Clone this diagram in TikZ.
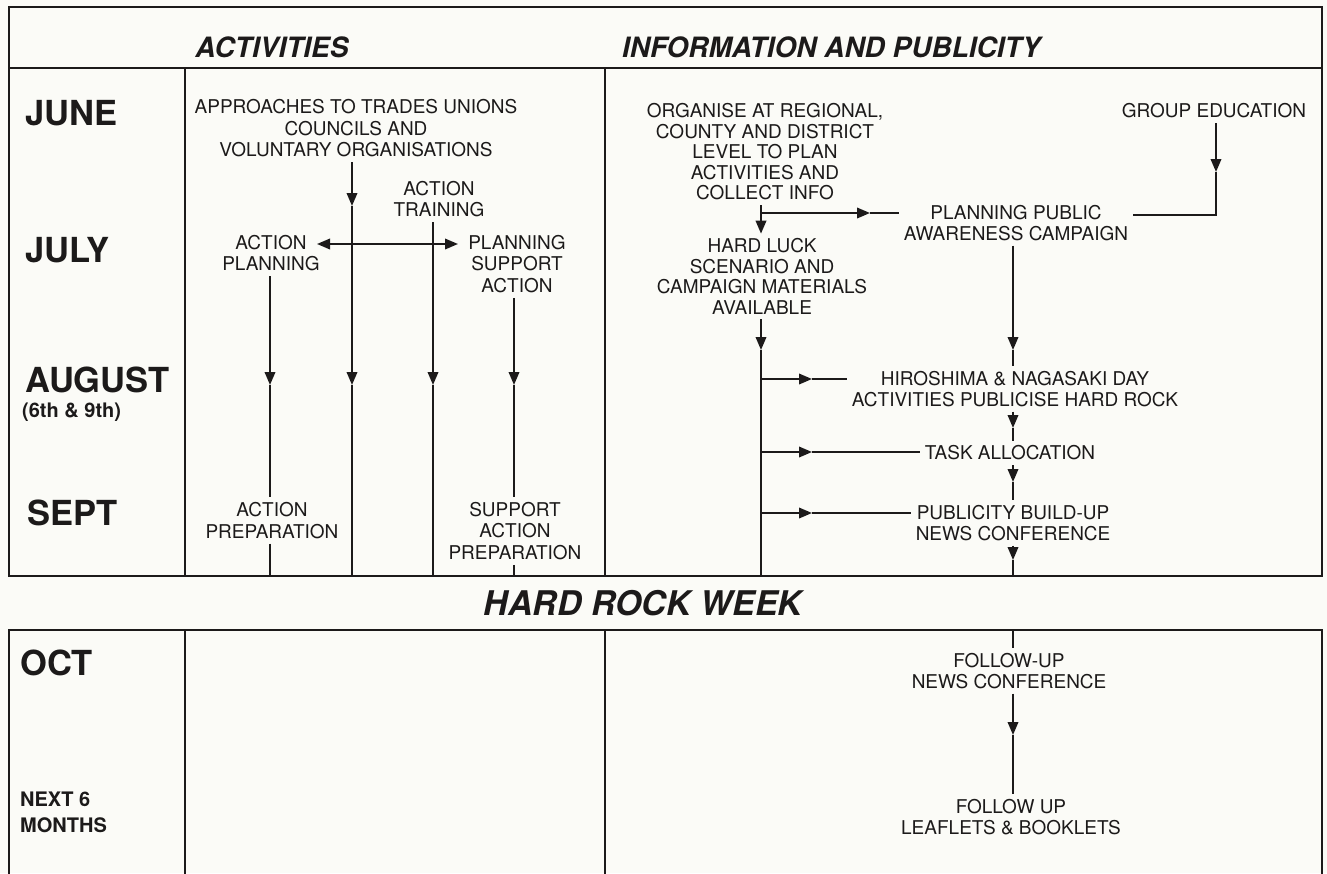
\documentclass[tikz,border=0pt]{standalone}
\usepackage{fontspec}
\setmainfont{TeX Gyre Heros}
\usetikzlibrary{arrows.meta}
\definecolor{paper}{RGB}{251,251,247}
\definecolor{ink}{RGB}{28,26,26}
\begin{document}
\begin{tikzpicture}[x=1pt,y=-1pt,color=ink,
  txt/.style={align=center,inner sep=0pt,outer sep=5pt,font=\fontsize{19}{21.5}\selectfont},
  rtxt/.style={align=center,inner sep=0pt,outer sep=5pt,font=\fontsize{19}{20.5}\selectfont},
  month/.style={anchor=west,inner sep=0pt,font=\fontsize{34.5}{40}\selectfont\bfseries},
  smallmonth/.style={anchor=west,inner sep=0pt,align=left,font=\fontsize{20}{26}\selectfont\bfseries},
  head/.style={inner sep=0pt,font=\fontsize{28}{32}\selectfont\bfseries\itshape},
  frame/.style={line width=2.3pt},
  div/.style={line width=1.7pt},
  flow/.style={line width=2pt},
  tip/.style={flow,-{Triangle[length=13pt,width=10.5pt]}},
  dtip/.style={flow,{Triangle[length=13pt,width=10.5pt]}-{Triangle[length=13pt,width=10.5pt]}},
]
\useasboundingbox (0,0) rectangle (1327,873);
\fill[paper] (0,0) rectangle (1327,873);

% ---------- frames ----------
\draw[frame] (9,7) rectangle (1322,576);
\draw[div] (9,68) -- (1322,68);
\draw[div] (185,68) -- (185,576);
\draw[div] (605,68) -- (605,576);
\draw[frame] (9,874) -- (9,630) -- (1322,630) -- (1322,874);
\draw[div] (185,630) -- (185,874);
\draw[div] (605,630) -- (605,874);

% ---------- headings ----------
\node[head] (hact) at (272,47) {ACTIVITIES};
\node[head,anchor=west] (hinfo) at (622,47) {INFORMATION AND PUBLICITY};
\node[head,font=\fontsize{34}{38}\selectfont\bfseries\itshape] (hrw) at (643,603) {HARD ROCK WEEK};

% ---------- months ----------
\node[month] (jun) at (25,113) {JUNE};
\node[month] (jul) at (25,250) {JULY};
\node[month] (aug) at (25,380) {AUGUST};
\node[smallmonth] (augd) at (22,412) {(6th \& 9th)};
\node[month] (sep) at (27,513) {SEPT};
\node[month] (oct) at (20,663) {OCT};
\node[smallmonth] (next) at (20,812) {NEXT 6\\MONTHS};

% ---------- activities ----------
\node[txt] (approach) at (356,128.5) {APPROACHES TO TRADES UNIONS\\COUNCILS AND\\VOLUNTARY ORGANISATIONS};
\node[txt] (training) at (439,199) {ACTION\\TRAINING};
\node[txt] (aplan) at (271,253) {ACTION\\PLANNING};
\node[txt] (psupp) at (517,264) {PLANNING\\SUPPORT\\ACTION};
\node[txt] (aprep) at (272,520.5) {ACTION\\PREPARATION};
\node[txt] (sprep) at (515,531) {SUPPORT\\ACTION\\PREPARATION};

\coordinate (a1) at (352,206);
\coordinate (a2) at (352,385);
\coordinate (a3) at (352,576);
\draw[tip] (approach.south -| a1) -- (a1);
\draw[tip] (a1) -- (a2);
\draw[flow] (a2) -- (a3);

\coordinate (b1) at (433,385);
\coordinate (b2) at (433,576);
\draw[tip] (training.south -| b1) -- (b1);
\draw[flow] (b1) -- (b2);

\coordinate (c1) at (270,385);
\coordinate (c2) at (270,576);
\draw[tip] (aplan.south -| c1) -- (c1);
\draw[flow] (c1) -- (aprep.north -| c1);
\draw[flow] (aprep.south -| c1) -- (c2);

\coordinate (d1) at (514,385);
\coordinate (d2) at (514,576);
\draw[tip] (psupp.south -| d1) -- (d1);
\draw[flow] (d1) -- (sprep.north -| d1);
\draw[flow] (sprep.south -| d1) -- (d2);

\coordinate (dl) at (317,244);
\coordinate (dr) at (458,244);
\draw[dtip] (dl) -- (dr);

% ---------- information and publicity ----------
\node[rtxt] (organise) at (765,152) {ORGANISE AT REGIONAL,\\COUNTY AND DISTRICT\\LEVEL TO PLAN\\ACTIVITIES AND\\COLLECT INFO};
\node[rtxt] (hardluck) at (762,276.5) {HARD LUCK\\SCENARIO AND\\CAMPAIGN MATERIALS\\AVAILABLE};
\node[rtxt] (ppac) at (1016,223) {PLANNING PUBLIC\\AWARENESS CAMPAIGN};
\node[rtxt] (group) at (1214,111) {GROUP EDUCATION};
\node[rtxt] (hiro) at (1015,389) {HIROSHIMA \& NAGASAKI DAY\\ACTIVITIES PUBLICISE HARD ROCK};
\node[rtxt] (task) at (1010,453) {TASK ALLOCATION};
\node[rtxt] (pub) at (1013,523) {PUBLICITY BUILD-UP\\NEWS CONFERENCE};
\node[rtxt] (fu1) at (1009,671) {FOLLOW-UP\\NEWS CONFERENCE};
\node[rtxt] (fu2) at (1011,817) {FOLLOW UP\\LEAFLETS \& BOOKLETS};

% organise -> hard luck, and -> planning public awareness
\coordinate (h0) at (761,213);
\coordinate (h1) at (870,213);
\draw[tip] (organise.south -| h0) -- (hardluck.north -| h0);
\draw[tip] (h0) -- (h1);
\draw[flow] (h1) -- (ppac.west |- h1);

% hard luck trunk with branches
\coordinate (k1) at (761,350);
\coordinate (k2) at (761,576);
\draw[tip] (hardluck.south -| k1) -- (k1);
\draw[flow] (k1) -- (k2);
\coordinate (e1) at (812,379);
\coordinate (e2) at (812,452);
\coordinate (e3) at (812,513);
\draw[tip] (k1 |- e1) -- (e1);
\draw[flow] (e1) -- (hiro.west |- e1);
\draw[tip] (k1 |- e2) -- (e2);
\draw[flow] (e2) -- (task.west |- e2);
\draw[tip] (k1 |- e3) -- (e3);
\draw[flow] (e3) -- (pub.west |- e3);

% group education -> planning public awareness
\coordinate (g1) at (1216,172);
\coordinate (g2) at (1216,215);
\draw[tip] (group.south -| g1) -- (g1);
\draw[flow] (g1) -- (g2) -- (ppac.east |- g2);

% main right column
\coordinate (m1) at (1013,350);
\coordinate (m2) at (1013,428);
\coordinate (m3) at (1013,482);
\coordinate (m4) at (1013,560);
\coordinate (m5) at (1013,576);
\coordinate (m6) at (1013,630);
\coordinate (m7) at (1013,735);
\draw[tip] (ppac.south -| m1) -- (m1);
\draw[flow] (m1) -- (hiro.north -| m1);
\draw[tip] (hiro.south -| m2) -- (m2);
\draw[flow] (m2) -- (task.north -| m2);
\draw[tip] (task.south -| m3) -- (m3);
\draw[flow] (m3) -- (pub.north -| m3);
\draw[tip] (pub.south -| m4) -- (m4);
\draw[flow] (m4) -- (m5);
\draw[flow] (m6) -- (fu1.north -| m6);
\draw[tip] (fu1.south -| m7) -- (m7);
\draw[flow] (m7) -- (fu2.north -| m7);
\end{tikzpicture}
\end{document}
